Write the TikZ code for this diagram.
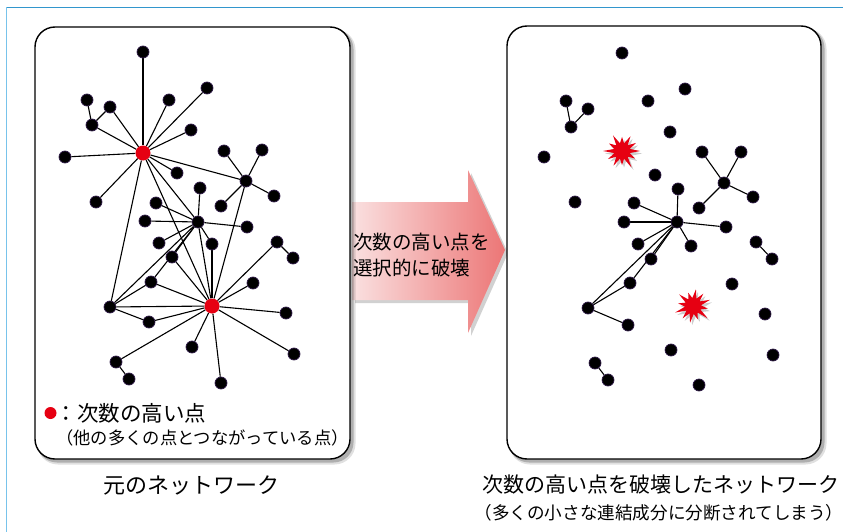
\documentclass[tikz,border=0pt]{standalone}
\usepackage{fontspec}
\setmainfont{Noto Sans CJK JP}
\usetikzlibrary{shapes.geometric}
\pgfdeclarelayer{bg}
\pgfdeclarelayer{edgelayer}
\pgfsetlayers{bg,edgelayer,main}
\definecolor{hubred}{RGB}{230,0,18}
\definecolor{dotrim}{RGB}{45,25,70}
\definecolor{frametop}{RGB}{50,150,205}
\definecolor{frameleft}{RGB}{120,195,235}
\definecolor{arrowlight}{RGB}{250,224,224}
\definecolor{arrowdark}{RGB}{236,118,118}
\begin{document}
\begin{tikzpicture}[x=1pt,y=-1pt,
  dot/.style={circle,inner sep=0pt,minimum size=12pt,fill=black,draw=dotrim,line width=0.7pt},
  hub/.style={circle,inner sep=0pt,minimum size=15pt,fill=hubred},
  link/.style={line width=1.1pt},
  panel/.style={draw=black,line width=1.4pt,fill=white,rounded corners=20pt},
  shade1/.style={fill=black,opacity=0.12,rounded corners=21pt},
  shade2/.style={fill=black,opacity=0.22,rounded corners=20pt},
  txt/.style={inner sep=0pt}]
\useasboundingbox (0,0) rectangle (843,532);
% frame
\draw[frametop,line width=1.5pt] (6.5,7.5) -- (843,7.5);
\draw[frameleft,line width=1.5pt] (6.5,7.5) -- (6.5,532);
\begin{pgfonlayer}{bg}
% arrow
\fill[black,opacity=0.18] (355,205) -- (471,205) -- (471,173) -- (508,253) -- (471,336) -- (471,303) -- (355,303) -- cycle;
\path[left color=arrowlight,right color=arrowdark]
  (352,202) -- (468,202) -- (468,170) -- (505,250) -- (468,333) -- (468,300) -- (352,300) -- cycle;
% panels with shadows
\foreach \xa/\ya/\xb/\yb in {35/27/350/459, 507/26/821/459} {
  \path[shade1] (\xa+2,\ya+2) rectangle (\xb+5.5,\yb+5.5);
  \path[shade2] (\xa+2,\ya+2) rectangle (\xb+3.5,\yb+3.5);
  \path[panel] (\xa,\ya) rectangle (\xb,\yb);
}
\end{pgfonlayer}
\node[txt,anchor=west,align=left,font=\fontsize{19.5}{26.5}\selectfont] (arrowtext) at (353,255) {次数の高い点を\\選択的に破壊};
% left network nodes
\foreach \n/\x/\y in {A/143/52,B/87/100,C/110/107,D/92/125,E/169/100,F/207/88,G/191/130,
  I/65/157,J/177/173,K/96/202,L/224/151,M/262/150,N/246/181,O/274/196,P/221/206,Q/200/188,
  R/156/203,S/198/222,T/145/221,U/247/227,V/159/243,W/212/244,X/172/257,Y/277/242,Z/293/258,
  AA/151/282,AB/253/283,AC/110/307,AD/149/322,AE/286/313,AF/192/347,AG/294/354,AH/116/362,
  AI/129/379,AJ/221/383}
  \node[dot] (\n) at (\x,\y) {};
\node[hub] (H1) at (143,153) {};
\node[hub] (H2) at (212,306) {};
% right network nodes
\foreach \n/\x/\y in {A/622/53,B/566/101,C/588/109,D/571/127,E/648/101,F/685/89,G/670/132,
  I/544/157,J/655/175,K/575/202,L/702/152,M/741/152,N/724/183,O/753/197,P/699/208,Q/678/189,
  R/634/203,S/677/222,T/624/222,U/726/227,V/638/244,W/691/246,X/651/259,Y/756/242,Z/772/259,
  AA/630/283,AB/732/284,AC/588/308,AD/628/325,AE/765/314,AF/671/350,AG/773/355,AH/595/363,
  AI/608/380,AJ/699/385}
  \node[dot] (r\n) at (\x,\y) {};
% bursts (destroyed hubs)
\foreach \cx/\cy/\rot in {622/151/0, 693/306/20} {
  \begin{scope}[shift={(\cx+2,\cy+2.5)},rotate=\rot]
    \fill[black,opacity=0.2] (0:18) \foreach \a/\r in {15/8,30/15,45/8,60/19,75/8,90/14,105/8,120/17,135/8,150/16,165/8,180/19,195/8,210/15,225/8,240/18,255/8,270/14,285/8,300/17,315/8,330/16,345/8} { -- (\a:\r) } -- cycle;
  \end{scope}
  \begin{scope}[shift={(\cx,\cy)},rotate=\rot]
    \fill[hubred] (0:18) \foreach \a/\r in {15/8,30/15,45/8,60/19,75/8,90/14,105/8,120/17,135/8,150/16,165/8,180/19,195/8,210/15,225/8,240/18,255/8,270/14,285/8,300/17,315/8,330/16,345/8} { -- (\a:\r) } -- cycle;
  \end{scope}
}
% edges
\begin{pgfonlayer}{edgelayer}
\draw[line width=1.8pt] (H1) -- (A);
\foreach \a/\b in {H1/C,H1/D,H1/E,H1/F,H1/G,H1/I,H1/J,H1/K,H1/N,H1/S,H1/H2,H1/AC,
  B/D,C/D,N/L,N/M,N/O,N/P,N/H2,
  S/Q,S/R,S/T,S/U,S/V,S/W,S/X,S/AA,S/AC,S/H2,AA/AC,AC/AD,
  H2/W,H2/X,H2/AA,H2/AC,H2/AD,H2/AB,H2/Y,H2/AE,H2/AG,H2/AJ,H2/AF,H2/AH,
  Y/Z,AH/AI}
  \draw[link] (\a) -- (\b);
\foreach \a/\b in {B/D,C/D,N/L,N/M,N/O,N/P,S/Q,S/R,S/T,S/U,S/V,S/W,S/X,S/AA,S/AC,
  AA/AC,AC/AD,Y/Z,AH/AI}
  \draw[link] (r\a) -- (r\b);
\end{pgfonlayer}
% legend
\node[circle,inner sep=0pt,minimum size=12pt,fill=hubred] (legdot) at (50.5,413) {};
\node[txt,anchor=west,font=\fontsize{21.5}{24}\selectfont] (leg1) at (55.5,413) {：次数の高い点};
\node[txt,font=\fontsize{17.3}{20}\selectfont] (leg2) at (202.5,438) {（他の多くの点とつながっている点）};
% captions
\node[txt,font=\fontsize{22}{26}\selectfont] (cap1) at (191,485) {元のネットワーク};
\node[txt,font=\fontsize{21}{26}\selectfont] (cap2) at (661,485) {次数の高い点を破壊したネットワーク};
\node[txt,font=\fontsize{17.6}{22}\selectfont] (cap3) at (659,513) {（多くの小さな連結成分に分断されてしまう）};
\end{tikzpicture}
\end{document}
